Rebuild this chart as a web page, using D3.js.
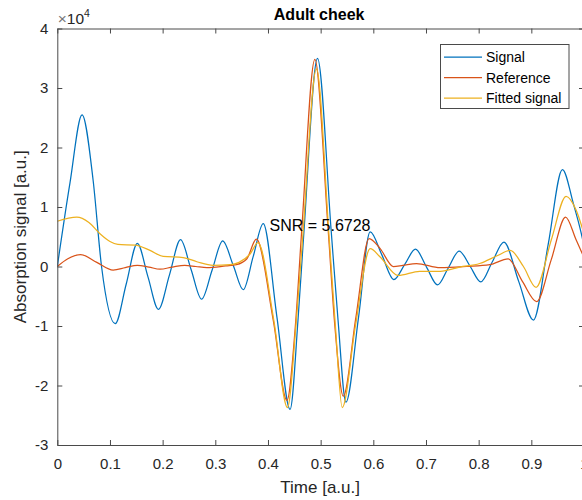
<!DOCTYPE html>
<html>
<head>
<meta charset="utf-8">
<script src="https://cdn.jsdelivr.net/npm/d3@7/dist/d3.min.js"></script>
<style>
  body { margin: 0; background: #fff; }
  svg { display: block; font-family: "Liberation Sans", Arial, Helvetica, sans-serif; }
</style>
</head>
<body>
<svg id="chart" width="582" height="500"></svg>
<script>
// Time axis ticks and value ticks (values in units of 10^4)
const xTicks = [0, 0.1, 0.2, 0.3, 0.4, 0.5, 0.6, 0.7, 0.8, 0.9, 1];
const yTicks = [-3, -2, -1, 0, 1, 2, 3, 4];

const seriesNames = ["Signal", "Reference", "Fitted signal"];
const seriesColors = ["#0072BD", "#D95319", "#EDB120"];

// Measured absorption signal: [time, value ×1e4]
const signal = [
  [0.000, 0.00], [0.024, 1.40], [0.047, 2.55], [0.068, 1.45], [0.084, 0.00],
  [0.110, -0.96], [0.131, -0.29], [0.152, 0.39], [0.172, -0.17], [0.192, -0.72],
  [0.213, -0.14], [0.234, 0.45], [0.254, -0.05], [0.274, -0.55], [0.294, -0.06],
  [0.314, 0.43], [0.334, 0.02], [0.353, -0.39], [0.372, 0.17], [0.391, 0.72],
  [0.417, -0.85], [0.442, -2.40], [0.457, -0.90], [0.468, 0.55], [0.494, 3.50],
  [0.520, 0.60], [0.533, -0.90], [0.548, -2.28], [0.572, -0.85], [0.594, 0.58],
  [0.616, 0.20], [0.639, -0.22], [0.660, 0.04], [0.680, 0.29], [0.701, -0.01],
  [0.722, -0.31], [0.742, -0.03], [0.763, 0.26], [0.784, 0.00], [0.804, -0.26],
  [0.826, 0.08], [0.848, 0.41], [0.876, -0.25], [0.904, -0.90], [0.932, 0.37],
  [0.959, 1.63], [0.980, 1.05], [0.995, 0.55], [1.000, 0.35]
];

// Reference waveform
const reference = [
  [0.000, 0.00], [0.020, 0.13], [0.044, 0.20], [0.075, 0.07], [0.106, -0.06],
  [0.129, -0.02], [0.152, 0.02], [0.174, -0.01], [0.195, -0.045], [0.218, -0.01],
  [0.242, 0.02], [0.263, 0.00], [0.284, -0.02], [0.320, 0.01], [0.340, 0.03],
  [0.360, 0.13], [0.378, 0.46], [0.410, -0.90], [0.436, -2.25], [0.452, -1.00],
  [0.464, 0.60], [0.489, 3.48], [0.514, 0.65], [0.527, -1.00], [0.543, -2.18],
  [0.567, -0.85], [0.592, 0.47], [0.613, 0.30], [0.638, 0.00], [0.656, 0.02],
  [0.682, 0.05], [0.727, -0.02], [0.777, 0.00], [0.821, 0.03], [0.856, 0.13],
  [0.883, -0.25], [0.910, -0.59], [0.938, 0.12], [0.965, 0.83], [0.985, 0.45],
  [1.000, 0.15]
];

// Fitted signal
const fitted = [
  [0.000, 0.76], [0.037, 0.83], [0.060, 0.74], [0.081, 0.55], [0.100, 0.42],
  [0.115, 0.37], [0.148, 0.36], [0.176, 0.27], [0.201, 0.17], [0.239, 0.15],
  [0.265, 0.08], [0.296, 0.02], [0.328, 0.03], [0.345, 0.07], [0.366, 0.21],
  [0.381, 0.40], [0.411, -0.90], [0.437, -2.37], [0.453, -1.00], [0.466, 0.50],
  [0.492, 3.32], [0.516, 0.50], [0.528, -1.00], [0.541, -2.37], [0.566, -1.00],
  [0.594, 0.30], [0.613, 0.16], [0.647, -0.15], [0.688, -0.08], [0.727, -0.08],
  [0.764, -0.01], [0.802, 0.05], [0.835, 0.18], [0.860, 0.27], [0.885, 0.00],
  [0.909, -0.35], [0.938, 0.45], [0.966, 1.18], [0.985, 0.95], [1.000, 0.55]
];

const titleText = "Adult cheek";
const xLabel = "Time [a.u.]";
const yLabel = "Absorption signal [a.u.]";
const snrText = "SNR = 5.6728";
const snrPos = [0.403, 0.60];

const svg = d3.select("#chart");
const mLeft = 57.3, mRight = 584, mTop = 28.5, mBottom = 445;
const axisColor = "#262626";
const axisLineColor = "#4a4a4a";

const x = d3.scaleLinear().domain([0, 1]).range([mLeft, mRight]);
const y = d3.scaleLinear().domain([-3, 4]).range([mBottom, mTop]);

// clip region for the plot box
svg.append("defs").append("clipPath").attr("id", "plotclip")
  .append("rect").attr("x", mLeft).attr("y", mTop)
  .attr("width", mRight - mLeft).attr("height", mBottom - mTop);

const line = d3.line()
  .x(d => x(d[0])).y(d => y(d[1]))
  .curve(d3.curveMonotoneX);

const plot = svg.append("g").attr("clip-path", "url(#plotclip)");
[signal, reference, fitted].forEach((data, i) => {
  plot.append("path")
    .datum(data)
    .attr("d", line)
    .attr("fill", "none")
    .attr("stroke", seriesColors[i])
    .attr("stroke-width", 1.25);
});

// axes: ticks point inward on all four sides
function styleAxis(g) {
  g.selectAll("path.domain").attr("stroke", axisLineColor).attr("stroke-width", 1);
  g.selectAll(".tick line").attr("stroke", axisLineColor).attr("stroke-width", 1);
  g.selectAll(".tick text").attr("fill", axisColor)
    .style("font-size", "15px").style("font-family", "'Liberation Sans', Arial, sans-serif");
}

// plain hyphen for negative numbers
const plainNum = d => String(d);

svg.append("g").attr("transform", `translate(0,${mBottom})`)
  .call(d3.axisBottom(x).tickValues(xTicks).tickFormat(plainNum)
    .tickSizeInner(-5).tickSizeOuter(0).tickPadding(13))
  .call(styleAxis);

svg.append("g").attr("transform", `translate(0,${mTop})`)
  .call(d3.axisTop(x).tickValues(xTicks).tickFormat("")
    .tickSizeInner(-5).tickSizeOuter(0))
  .call(styleAxis);

svg.append("g").attr("transform", `translate(${mLeft},0)`)
  .call(d3.axisLeft(y).tickValues(yTicks).tickFormat(plainNum)
    .tickSizeInner(-5).tickSizeOuter(0).tickPadding(9))
  .call(styleAxis);

svg.append("g").attr("transform", `translate(${mRight},0)`)
  .call(d3.axisRight(y).tickValues(yTicks).tickFormat("")
    .tickSizeInner(-5).tickSizeOuter(0))
  .call(styleAxis);

// exponent marker
const expo = svg.append("text").attr("x", mLeft + 0.5).attr("y", 24)
  .attr("fill", axisColor).style("font-size", "15.5px");
expo.append("tspan").attr("fill", "#777").text("\u00D7");
expo.append("tspan").text("10");
expo.append("tspan").attr("dy", -7.5).style("font-size", "10.5px").text("4");

// title
svg.append("text").attr("x", (mLeft + mRight) / 2 - 1.5).attr("y", 20)
  .attr("text-anchor", "middle").attr("fill", "#000")
  .style("font-size", "16px").style("font-weight", "bold").text(titleText);

// axis labels
svg.append("text").attr("x", (mLeft + mRight) / 2 - 0.5).attr("y", 493)
  .attr("text-anchor", "middle").attr("fill", axisColor)
  .style("font-size", "17px").text(xLabel);

svg.append("text").attr("transform", `translate(26,${(mTop + mBottom) / 2}) rotate(-90)`)
  .attr("text-anchor", "middle").attr("fill", axisColor)
  .style("font-size", "17px").text(yLabel);

// SNR annotation
svg.append("text").attr("x", x(snrPos[0])).attr("y", y(snrPos[1]))
  .attr("fill", "#000").style("font-size", "16px").text(snrText);

// legend
const lg = svg.append("g").attr("transform", "translate(440.5,44.5)");
lg.append("rect").attr("width", 128.5).attr("height", 64)
  .attr("fill", "#fff").attr("stroke", axisLineColor).attr("stroke-width", 1);
seriesNames.forEach((name, i) => {
  const cy = 12.5 + i * 20.5;
  lg.append("line").attr("x1", 3.5).attr("x2", 41.5).attr("y1", cy).attr("y2", cy)
    .attr("stroke", seriesColors[i]).attr("stroke-width", 1.25);
  lg.append("text").attr("x", 45.5).attr("y", cy).attr("dy", "0.36em")
    .attr("fill", "#000").style("font-size", "14px").text(name);
});
</script>
</body>
</html>
